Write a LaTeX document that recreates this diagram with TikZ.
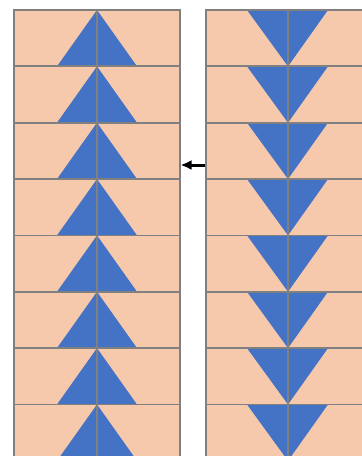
\documentclass[tikz,border=0pt]{standalone}
\usetikzlibrary{arrows.meta}
\definecolor{quiltPeach}{RGB}{246,201,172}
\definecolor{quiltBlue}{RGB}{68,114,196}
\definecolor{quiltGray}{RGB}{128,128,128}
\begin{document}
\begin{tikzpicture}[x=1pt, y=-1pt]
            \tikzset{patch/.style={fill=quiltPeach}, goose/.style={fill=quiltBlue}, seam/.style={draw=quiltGray, line width=1.8pt}}

            \useasboundingbox (0,0) rectangle (362,456);
            \clip (0,0) rectangle (362,456);

            \foreach \i in {0,...,7} {
                \pgfmathsetmacro{\top}{10+56.35*\i}
                \pgfmathsetmacro{\bot}{10+56.35*(\i+1)}

                % left column, geese pointing up
                \fill[patch] (14,\top) rectangle (180,\bot);
                \fill[goose] (97,\top) -- (137,\bot) -- (57,\bot) -- cycle;
                \draw[seam] (14,\top) rectangle (180,\bot);
                \draw[seam] (97,\top) -- (97,\bot);

                % right column, geese pointing down
                \fill[patch] (206,\top) rectangle (370,\bot);
                \fill[goose] (247,\top) -- (328,\top) -- (288,\bot) -- cycle;
                \draw[seam] (206,\top) rectangle (370,\bot);
                \draw[seam] (288,\top) -- (288,\bot);
            }

            \coordinate (arrowtail) at (205,165);
            \coordinate (arrowhead) at (180.5,165);
            \draw[-{Latex[length=11pt, width=10pt]}, line width=3pt] (arrowtail) -- (arrowhead);
        \end{tikzpicture}
\end{document}
